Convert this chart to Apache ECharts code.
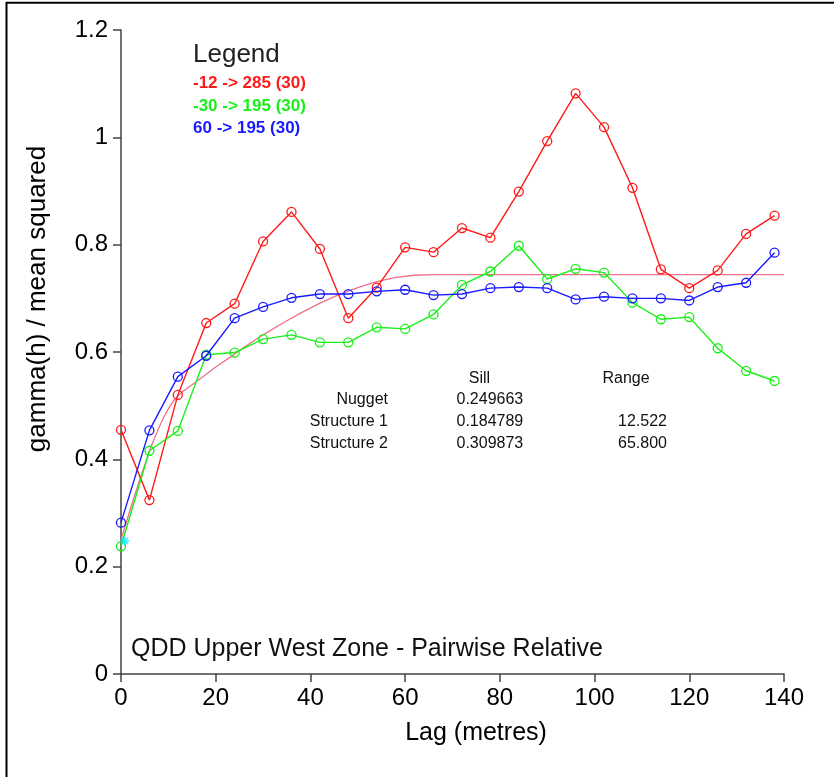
<!DOCTYPE html>
<html>
<head>
<meta charset="utf-8">
<script src="https://cdn.jsdelivr.net/npm/echarts@6.0.0/dist/echarts.min.js"></script>
<style>
  html, body { margin: 0; padding: 0; background: #fff; }
  #chart { width: 834px; height: 777px; }
</style>
</head>
<body>
<div id="chart"></div>
<script>
// lag classes (metres)
const lags = [0, 6, 12, 18, 24, 30, 36, 42, 48, 54, 60, 66, 72, 78, 84, 90, 96, 102, 108, 114, 120, 126, 132, 138]

const red = [0.455, 0.324, 0.520, 0.654, 0.690, 0.806, 0.861, 0.792, 0.663, 0.720, 0.795, 0.786,
  0.831, 0.813, 0.899, 0.993, 1.082, 1.019, 0.906, 0.754, 0.719, 0.752, 0.820, 0.854]
const green = [0.238, 0.416, 0.453, 0.595, 0.599, 0.624, 0.632, 0.618, 0.618, 0.646, 0.643, 0.670,
  0.725, 0.750, 0.798, 0.736, 0.755, 0.748, 0.692, 0.661, 0.665, 0.607, 0.565, 0.546]
const blue = [0.282, 0.454, 0.554, 0.593, 0.663, 0.684, 0.701, 0.708, 0.708, 0.713, 0.716, 0.706,
  0.708, 0.719, 0.721, 0.719, 0.698, 0.703, 0.700, 0.700, 0.696, 0.721, 0.729, 0.785]

const seriesNames = ['-12 -> 285 (30)', '-30 -> 195 (30)', '60 -> 195 (30)']
const seriesColors = ['#ff1a1a', '#1aef1a', '#1a1aff']

// fitted model curve (pink)
const modelLags = [0, 1, 2, 3, 4, 5, 6, 7, 8, 9, 10, 11, 12, 13, 15, 17, 20, 23, 26, 30, 34, 38, 42,
  46, 50, 54, 58, 62, 66, 140]
const modelVals = [0.250, 0.279, 0.308, 0.336, 0.363, 0.389, 0.415, 0.438, 0.459, 0.478, 0.494,
  0.508, 0.518, 0.526, 0.539, 0.552, 0.572, 0.590, 0.609, 0.632, 0.653, 0.673, 0.691, 0.707,
  0.720, 0.731, 0.739, 0.743, 0.744, 0.744]

// nugget marker
const nuggetPoint = [0.8, 0.248]

// model table
const tableHeads = ['Sill', 'Range']
const tableRows = ['Nugget', 'Structure 1', 'Structure 2']
const tableSill = ['0.249663', '0.184789', '0.309873']
const tableRange = ['', '12.522', '65.800']

const title = 'QDD Upper West Zone - Pairwise Relative'
const xName = 'Lag (metres)'
const yName = 'gamma(h) / mean squared'

const font = "'Liberation Sans', Arial, sans-serif"

function pairs(xs, ys) {
  return xs.map((x, i) => [x, ys[i]])
}

const chart = echarts.init(document.getElementById('chart'))

const lineSeries = [red, green, blue].map((vals, i) => ({
  name: seriesNames[i],
  type: 'line',
  data: pairs(lags, vals),
  symbol: 'circle',
  symbolSize: 9,
  lineStyle: { color: seriesColors[i], width: 1.4 },
  itemStyle: { color: 'rgba(0,0,0,0)', borderColor: seriesColors[i], borderWidth: 1.3 },
  z: 3 + i,
  animation: false
}))

const graphics = [
  // frame
  { type: 'line', shape: { x1: 6.5, y1: 2, x2: 6.5, y2: 777 }, style: { stroke: '#000', lineWidth: 2 } },
  { type: 'line', shape: { x1: 6, y1: 2.8, x2: 834, y2: 2.8 }, style: { stroke: '#000', lineWidth: 2 } },
  // legend
  { type: 'text', left: 193, top: 42, style: { text: 'Legend', font: '26px ' + font, fill: '#222' } },
  // axis names
  { type: 'text', x: 38, y: 299, rotation: Math.PI / 2,
    style: { text: yName, font: '26px ' + font, fill: '#000', align: 'center', verticalAlign: 'middle' } },
  { type: 'text', x: 476, y: 733,
    style: { text: xName, font: '25px ' + font, fill: '#000', align: 'center', verticalAlign: 'middle' } },
  // title inside plot
  { type: 'text', x: 131, y: 649,
    style: { text: title, font: '25px ' + font, fill: '#111', align: 'left', verticalAlign: 'middle' } }
]

seriesNames.forEach((name, i) => {
  graphics.push({ type: 'text', x: 193, y: 83.5 + i * 22.5,
    style: { text: name, font: 'bold 17px ' + font, fill: seriesColors[i], verticalAlign: 'middle' } })
})

graphics.push({ type: 'text', x: 479.5, y: 379, style: { text: tableHeads[0], font: '16px ' + font, fill: '#111', align: 'center', verticalAlign: 'middle' } })
graphics.push({ type: 'text', x: 626, y: 379, style: { text: tableHeads[1], font: '16px ' + font, fill: '#111', align: 'center', verticalAlign: 'middle' } })
tableRows.forEach((row, i) => {
  const y = 400 + i * 21.7
  graphics.push({ type: 'text', x: 388, y: y, style: { text: row, font: '16px ' + font, fill: '#111', align: 'right', verticalAlign: 'middle' } })
  graphics.push({ type: 'text', x: 456.5, y: y, style: { text: tableSill[i], font: '16px ' + font, fill: '#111', align: 'left', verticalAlign: 'middle' } })
  graphics.push({ type: 'text', x: 667, y: y, style: { text: tableRange[i], font: '16px ' + font, fill: '#111', align: 'right', verticalAlign: 'middle' } })
})

chart.setOption({
  backgroundColor: '#fff',
  animation: false,
  textStyle: { fontFamily: font },
  grid: { left: 121, top: 30, right: 50, bottom: 103, containLabel: false },
  xAxis: {
    type: 'value',
    min: 0,
    max: 140,
    interval: 20,
    splitLine: { show: false },
    axisLine: { onZero: false, lineStyle: { color: '#444', width: 1.5 } },
    axisTick: { length: 8, lineStyle: { color: '#444', width: 1.5 } },
    axisLabel: { color: '#000', fontSize: 24, margin: 12 }
  },
  yAxis: {
    type: 'value',
    min: 0,
    max: 1.2,
    interval: 0.2,
    splitLine: { show: false },
    axisLine: { show: true, onZero: false, lineStyle: { color: '#444', width: 1.5 } },
    axisTick: { show: true, length: 8, lineStyle: { color: '#444', width: 1.5 } },
    axisLabel: { color: '#000', fontSize: 24, margin: 13 }
  },
  graphic: graphics,
  series: [
    {
      name: 'model',
      type: 'line',
      data: pairs(modelLags, modelVals),
      smooth: false,
      showSymbol: false,
      lineStyle: { color: '#f0708a', width: 1.3 },
      z: 2
    },
    ...lineSeries,
    {
      name: 'nugget',
      type: 'scatter',
      data: [nuggetPoint],
      symbol: 'path://M5,0L5,10M0,5L10,5M1.5,1.5L8.5,8.5M8.5,1.5L1.5,8.5',
      symbolSize: 9,
      itemStyle: { color: 'rgba(0,0,0,0)', borderColor: '#00e8ff', borderWidth: 1.5 },
      z: 7
    }
  ]
})
</script>
</body>
</html>
